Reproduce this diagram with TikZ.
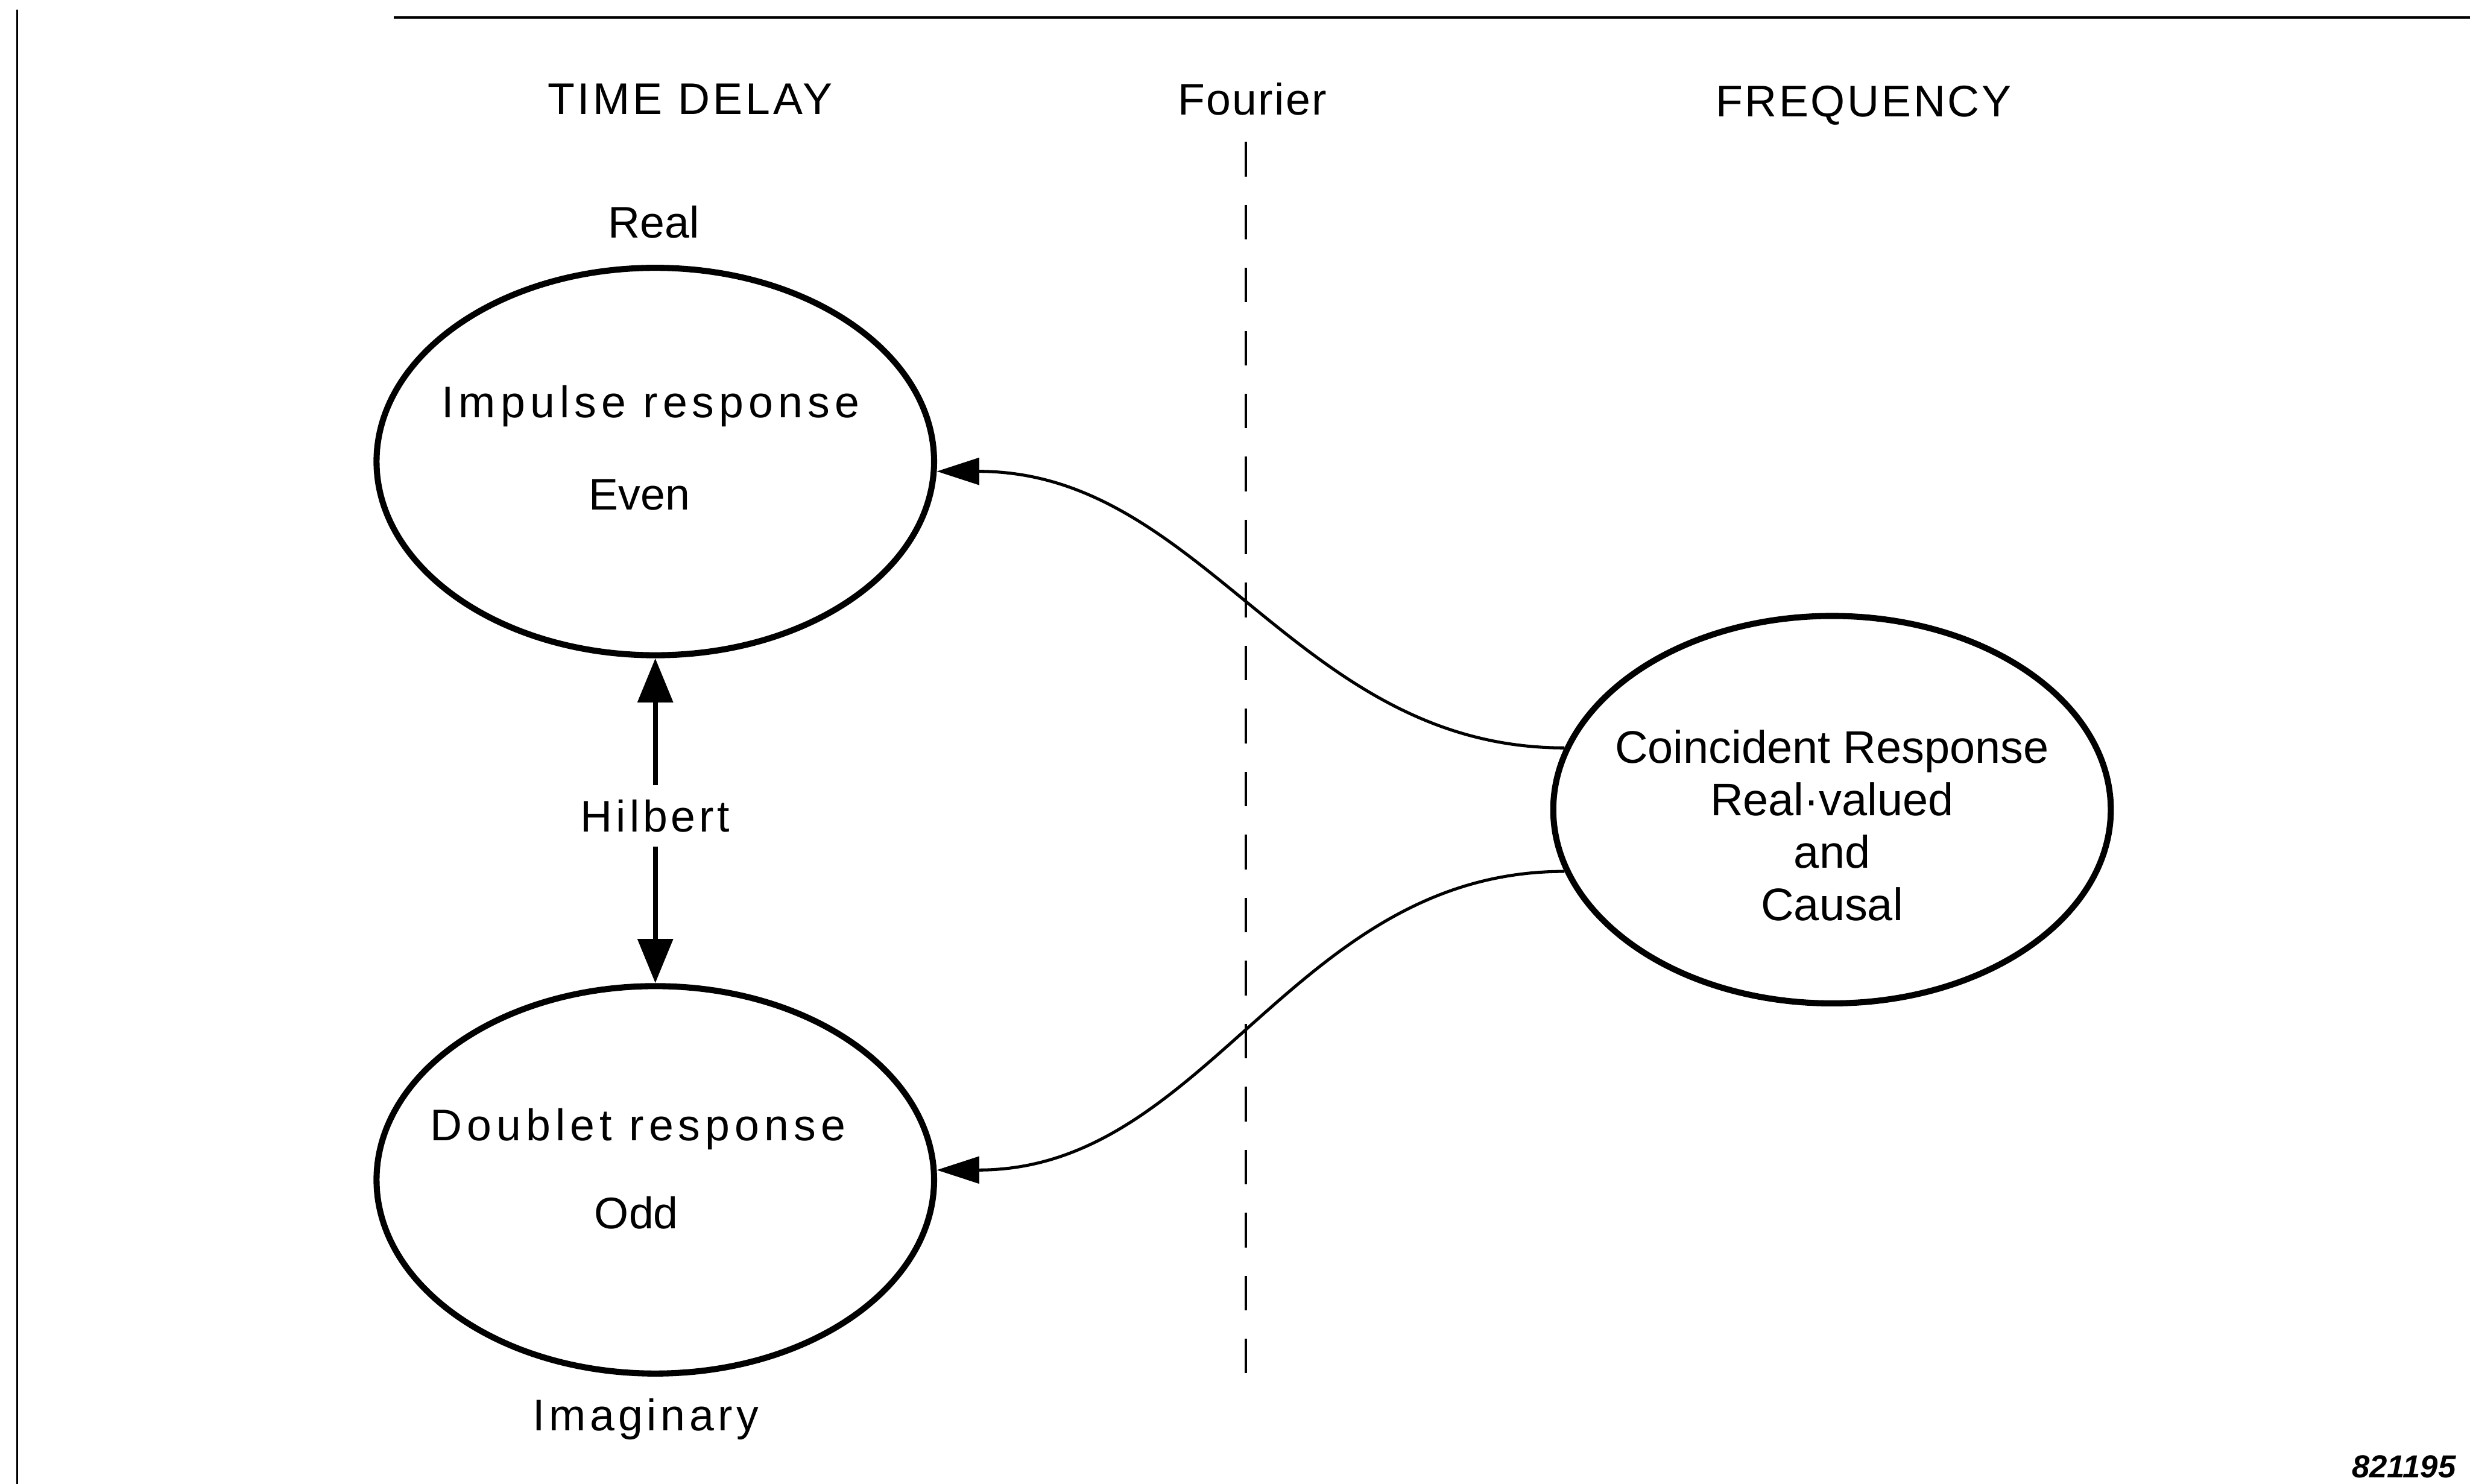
\documentclass[tikz,border=0pt]{standalone}
\usepackage{fontspec}
\setmainfont{Liberation Sans}
\usetikzlibrary{shapes.geometric,arrows.meta}
\tikzset{
  resp/.style={draw,ellipse,line width=2.2pt,minimum width=7.08cm,minimum height=4.92cm,inner sep=0pt},
  lbl/.style={inner sep=0pt,font=\fontsize{16}{19}\selectfont\addfontfeature{LetterSpace=#1}},
  lbl/.default=0,
  coinclbl/.style={inner sep=0pt,align=center,font=\fontsize{16.5}{18.9}\selectfont},
  flow/.style={line width=1.1pt,-{Triangle[length=0.54cm,width=0.34cm]}},
  hilb/.style={line width=1.8pt,-{Triangle[length=0.56cm,width=0.44cm]}},
  fourierline/.style={line width=0.9pt,dash pattern=on 0.44cm off 0.36cm}
}
\begin{document}
\begin{tikzpicture}[x=0.02cm,y=-0.02cm]
\useasboundingbox (0,0) rectangle (1568,942);
\draw[line width=0.6pt] (11,6)--(11,942);
\draw[line width=0.8pt] (250,11)--(1568,11);
\node[lbl=7] (timedelay) at (438,63) {TIME DELAY};
\node[lbl=3] (fourier) at (795,63) {Fourier};
\node[lbl=5] (frequency) at (1183,67) {FREQUENCY};
\coordinate (ftop) at (791,90);
\coordinate (fbot) at (791,878);
\draw[fourierline] (ftop)--(fbot);
\node[lbl] (real) at (415,141) {Real};
\node[resp] (impulse) at (416,293) {};
\node[lbl=11] (impulsetxt) at (413,258) {Impulse response};
\node[lbl] (even) at (406,314) {Even};
\node[resp] (doublet) at (416,749) {};
\node[lbl=11] (doublettxt) at (405,717) {Doublet response};
\node[lbl] (odd) at (404,770) {Odd};
\node[lbl=9] (imaginary) at (410,901) {Imaginary};
\node[resp] (coinc) at (1163,514) {};
\node[coinclbl] (coinctxt) at (1163,524) {Coincident Response\\Real·valued\\and\\Causal};
\node[lbl=8,inner sep=5pt] (hilbert) at (416,518) {Hilbert};
\draw[hilb] (hilbert) -- (impulse.south);
\draw[hilb] (hilbert) -- (doublet.north);
\draw[flow] (coinc.167) to[out=180,in=0] (impulse.-2);
\draw[flow] (coinc.193) to[out=180,in=0] (doublet.2);
\node[font=\fontsize{11.5}{13}\selectfont\bfseries\itshape] (fignum) at (1526,931) {821195};
\end{tikzpicture}
\end{document}
